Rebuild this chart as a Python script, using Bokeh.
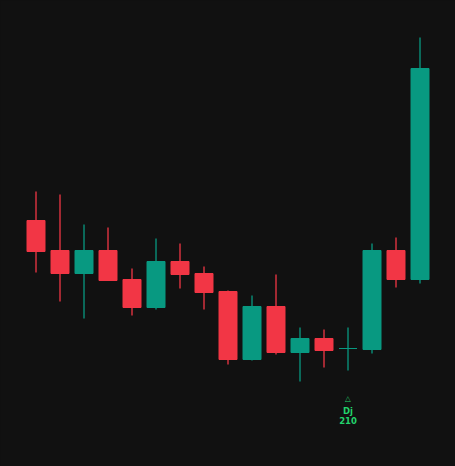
from bokeh.plotting import figure
from bokeh.models import ColumnDataSource, Range1d
from bokeh.embed import file_html
from bokeh.resources import INLINE
from bokeh.core.properties import value

# OHLC data (17 bars)
opens  = [222.8, 219.8, 217.5, 219.8, 216.9, 214.1, 218.7, 217.5, 215.7, 208.9, 214.2, 209.6, 211.0, 210.0, 209.9, 219.8, 216.9]
highs  = [225.7, 225.4, 222.4, 222.1, 218.0, 221.0, 220.5, 218.2, 215.8, 215.3, 217.4, 212.1, 211.9, 212.1, 220.5, 221.1, 241.1]
lows   = [217.6, 214.7, 213.0, 216.8, 213.3, 213.9, 216.0, 213.9, 208.4, 208.8, 209.4, 206.7, 208.1, 207.8, 209.5, 216.1, 216.5]
closes = [219.7, 217.5, 219.8, 216.8, 214.1, 218.7, 217.4, 215.6, 208.9, 214.2, 209.6, 211.0, 209.8, 210.0, 219.8, 216.9, 238.0]

# pattern marker
marker_index = 13
marker_symbol = "△"
marker_label = "Dj"
marker_value = "210"

UP = "#089981"
DOWN = "#F23645"
BG = "#111111"
MARK = "#22d36b"

idx = list(range(len(opens)))
colors = [UP if c >= o else DOWN for o, c in zip(opens, closes)]
src = ColumnDataSource(dict(
    x=idx, open=opens, high=highs, low=lows, close=closes,
    top=[max(o, c) for o, c in zip(opens, closes)],
    bottom=[min(o, c) for o, c in zip(opens, closes)],
    color=colors,
))

p = figure(width=455, height=466, output_backend="svg", toolbar_location=None,
           x_range=Range1d(-35.5 / 24, (455 - 35.5) / 24), y_range=Range1d(198.2, 244.8),
           x_axis_location=None, y_axis_location=None, min_border=0)
p.background_fill_color = BG
p.border_fill_color = BG
p.outline_line_color = None
p.grid.visible = False

p.segment(x0="x", y0="high", x1="x", y1="low", color="color", line_width=1.3, source=src)
p.vbar(x="x", width=0.75, top="top", bottom="bottom", fill_color="color",
       line_color="color", line_width=1, source=src)

mx = [marker_index]
my = [lows[marker_index]]
p.text(x=mx, y=my, text=[marker_symbol], text_color=MARK, text_font=value("DejaVu Sans"),
       text_font_size="7.5px", text_align="center", text_baseline="middle", y_offset=28)
p.text(x=mx, y=my, text=[marker_label], text_color=MARK, text_font=value("DejaVu Sans"),
       text_font_size="8.5px", text_font_style="bold", text_align="center",
       text_baseline="alphabetic", y_offset=40.3)
p.text(x=mx, y=my, text=[marker_value], text_color=MARK, text_font=value("DejaVu Sans"),
       text_font_size="8.5px", text_font_style="bold", text_align="center",
       text_baseline="alphabetic", y_offset=50)

html = file_html(p, INLINE)
html = html.replace("<head>", "<head><style>html,body{background:#111111;}</style>", 1)
open("out.html", "w").write(html)
